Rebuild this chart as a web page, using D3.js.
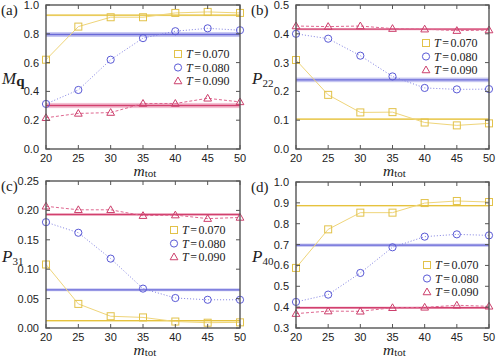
<!DOCTYPE html>
<html>
<head>
<meta charset="utf-8">
<style>
  body { margin: 0; background: #fff; }
  svg { display: block; }
  text { fill: #222; }
</style>
</head>
<body>
<svg width="498" height="357"></svg>
<script src="https://cdn.jsdelivr.net/npm/d3@7"></script>
<script>

// x values (m_tot)
let mtot = [20, 25, 30, 35, 40, 45, 50];
let temps = ["0.070", "0.080", "0.090"];

// (a) M_q
let mqT070 = [0.62, 0.85, 0.915, 0.915, 0.945, 0.952, 0.945];
let mqT080 = [0.313, 0.41, 0.62, 0.77, 0.818, 0.838, 0.825];
let mqT090 = [0.217, 0.247, 0.253, 0.316, 0.316, 0.352, 0.327];
let mqRef = [0.929, 0.795, 0.302];
let mqRefErr = [0.004, 0.017, 0.018];

// (b) P22
let p22T070 = [0.309, 0.188, 0.127, 0.128, 0.092, 0.082, 0.089];
let p22T080 = [0.40, 0.383, 0.324, 0.252, 0.212, 0.207, 0.208];
let p22T090 = [0.427, 0.425, 0.427, 0.418, 0.416, 0.411, 0.413];
let p22Ref = [0.104, 0.240, 0.416];
let p22RefErr = [0.002, 0.008, 0.004];

// (c) P31
let p31T070 = [0.108, 0.041, 0.020, 0.018, 0.011, 0.009, 0.0096];
let p31T080 = [0.180, 0.162, 0.118, 0.067, 0.051, 0.048, 0.048];
let p31T090 = [0.207, 0.201, 0.201, 0.191, 0.192, 0.186, 0.188];
let p31Ref = [0.0125, 0.065, 0.193];
let p31RefErr = [0.001, 0.0025, 0.002];

// (d) P40
let p40T070 = [0.588, 0.773, 0.853, 0.853, 0.899, 0.909, 0.904];
let p40T080 = [0.425, 0.46, 0.564, 0.687, 0.738, 0.749, 0.744];
let p40T090 = [0.369, 0.381, 0.380, 0.397, 0.399, 0.409, 0.404];
let p40Ref = [0.887, 0.697, 0.397];
let p40RefErr = [0.003, 0.008, 0.006];

let lineCol = ["#e6c23e", "#6a6ad8", "#d2406e"];
let bandCol = ["#f3e3a0", "#b8b8ee", "#f0b2c8"];
let dataCol = ["#efd57a", "#7f7fe2", "#df6790"];
let markCol = ["#e2c24a", "#5a5ad6", "#cc3f6c"];
let dash = [null, "1,2", "3,2"];

let panels = [
    { id: "(a)", x0: 46, x1: 240, y0: 5, y1: 149, dom: [0, 1], ticks: [0, 0.2, 0.4, 0.6, 0.8, 1.0], fmt: ".1f",
      series: [mqT070, mqT080, mqT090], ref: mqRef, err: mqRefErr, lab: "M", sub: "q", legY: 54, legX: 178 },
    { id: "(b)", x0: 296, x1: 489, y0: 5, y1: 149, dom: [0, 0.5], ticks: [0, 0.1, 0.2, 0.3, 0.4, 0.5], fmt: ".1f",
      series: [p22T070, p22T080, p22T090], ref: p22Ref, err: p22RefErr, lab: "P", sub: "22", legY: 43, legX: 426 },
    { id: "(c)", x0: 46, x1: 240, y0: 181, y1: 328, dom: [0, 0.25], ticks: [0, 0.05, 0.1, 0.15, 0.2, 0.25], fmt: ".2f",
      series: [p31T070, p31T080, p31T090], ref: p31Ref, err: p31RefErr, lab: "P", sub: "31", legY: 230, legX: 174 },
    { id: "(d)", x0: 296, x1: 489, y0: 182, y1: 328, dom: [0.3, 1.0], ticks: [0.3, 0.4, 0.5, 0.6, 0.7, 0.8, 0.9, 1.0], fmt: ".1f",
      series: [p40T070, p40T080, p40T090], ref: p40Ref, err: p40RefErr, lab: "P", sub: "40", legY: 265, legX: 427 }
];

let svg = d3.select("svg");

function marker(g, k, x, y) {
    if (k == 0) {
        g.append("rect").attr("x", x - 3.5).attr("y", y - 3.5).attr("width", 7).attr("height", 7)
            .attr("fill", "none").attr("stroke", markCol[k]).attr("stroke-width", 1);
    } else if (k == 1) {
        g.append("circle").attr("cx", x).attr("cy", y).attr("r", 3.6)
            .attr("fill", "none").attr("stroke", markCol[k]).attr("stroke-width", 1);
    } else {
        g.append("path").attr("d", d3.symbol().type(d3.symbolTriangle).size(26)())
            .attr("transform", "translate(" + x + "," + (y + 0.5) + ")")
            .attr("fill", "none").attr("stroke", markCol[k]).attr("stroke-width", 1);
    }
}

panels.forEach(p => {
    let x = d3.scaleLinear().domain([20, 50]).range([p.x0, p.x1]);
    let y = d3.scaleLinear().domain(p.dom).range([p.y1, p.y0]);
    let g = svg.append("g");

    // reference bands
    p.ref.forEach((r, k) => {
        g.append("rect")
            .attr("x", p.x0).attr("width", p.x1 - p.x0)
            .attr("y", y(r + p.err[k])).attr("height", Math.max(1.5, y(r - p.err[k]) - y(r + p.err[k])))
            .attr("fill", bandCol[k]).attr("opacity", 0.8);
        g.append("line")
            .attr("x1", p.x0).attr("x2", p.x1).attr("y1", y(r)).attr("y2", y(r))
            .attr("stroke", lineCol[k]).attr("stroke-width", 1.3);
    });

    // data
    let line = d3.line().x((d, i) => x(mtot[i])).y(d => y(d));
    p.series.forEach((s, k) => {
        g.append("path").attr("d", line(s)).attr("fill", "none")
            .attr("stroke", dataCol[k]).attr("stroke-width", 1)
            .attr("stroke-dasharray", dash[k]);
        s.forEach((v, i) => marker(g, k, x(mtot[i]), y(v)));
    });

    // frame + ticks
    let ax = svg.append("g").attr("stroke", "#555");
    ax.append("rect").attr("x", p.x0).attr("y", p.y0).attr("width", p.x1 - p.x0).attr("height", p.y1 - p.y0)
        .attr("fill", "none").attr("stroke-width", 1.4);
    mtot.forEach(t => {
        ax.append("line").attr("x1", x(t)).attr("x2", x(t)).attr("y1", p.y1).attr("y2", p.y1 - 4);
        ax.append("line").attr("x1", x(t)).attr("x2", x(t)).attr("y1", p.y0).attr("y2", p.y0 + 4);
    });
    p.ticks.forEach(t => {
        ax.append("line").attr("x1", p.x0).attr("x2", p.x0 + 4).attr("y1", y(t)).attr("y2", y(t));
        ax.append("line").attr("x1", p.x1).attr("x2", p.x1 - 4).attr("y1", y(t)).attr("y2", y(t));
    });

    let tl = svg.append("g").style("font-family", "Liberation Sans, Arial, sans-serif").style("font-size", "11px");
    mtot.forEach(t => {
        tl.append("text").attr("x", x(t)).attr("y", p.y1 + 12.5).attr("text-anchor", "middle").text(t);
    });
    p.ticks.forEach(t => {
        tl.append("text").attr("x", p.x0 - 7).attr("y", y(t) + 4).attr("text-anchor", "end").text(d3.format(p.fmt)(t));
    });

    // axis titles
    let serif = "Liberation Serif, Times New Roman, serif";
    let xt = svg.append("text").attr("x", (p.x0 + p.x1) / 2 + 2).attr("y", p.y1 + 26.5)
        .attr("text-anchor", "middle").style("font-family", serif);
    xt.append("tspan").style("font-style", "italic").style("font-size", "15.5px").text("m");
    xt.append("tspan").style("font-size", "11px").attr("dy", 1).text("tot");

    let yt = svg.append("text").attr("x", p.x0 - 44).attr("y", (p.y0 + p.y1) / 2 + 7)
        .style("font-family", serif);
    yt.append("tspan").style("font-style", "italic").style("font-size", "17px").text(p.lab);
    if (p.sub == "q") {
        yt.append("tspan").style("font-weight", "bold").style("font-size", "15px").attr("dy", 2).text(p.sub);
    } else {
        yt.append("tspan").style("font-size", "11px").attr("dy", 3).text(p.sub);
    }

    svg.append("text").attr("x", p.x0 - 45).attr("y", p.y0 + 10)
        .style("font-family", serif).style("font-size", "15px").text(p.id);

    // legend
    temps.forEach((t, k) => {
        let ly = p.legY + k * 13.5;
        marker(svg, k, p.legX, ly);
        let lt = svg.append("text").attr("x", p.legX + 8).attr("y", ly + 4)
            .style("font-family", serif).style("font-size", "12px");
        lt.append("tspan").style("font-style", "italic").text("T");
        lt.append("tspan").attr("dx", 1.5).text("=");
        lt.append("tspan").attr("dx", 1.5).text(t);
    });
});

</script>
</body>
</html>
